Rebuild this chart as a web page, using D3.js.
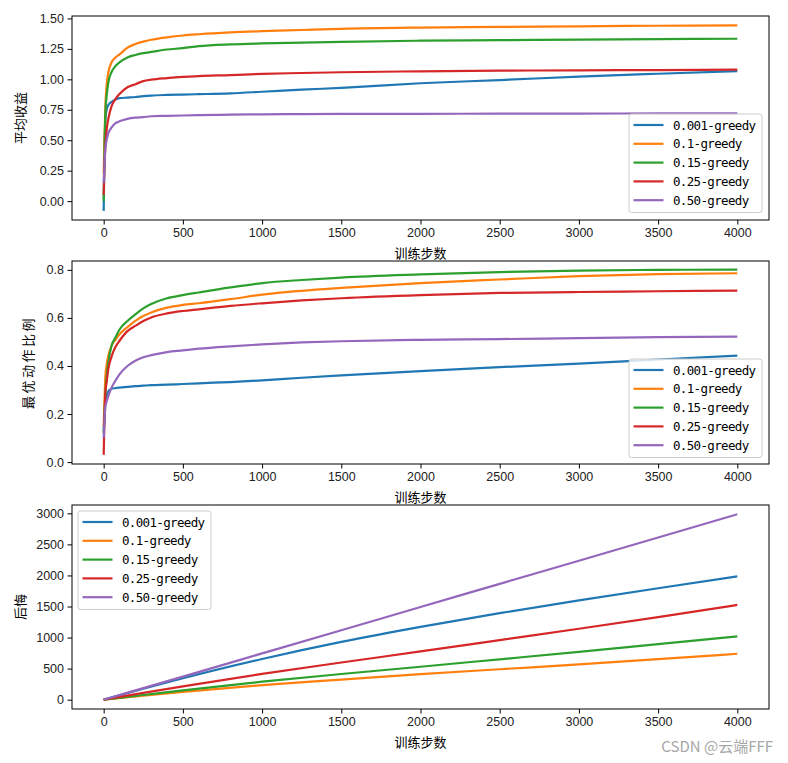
<!DOCTYPE html>
<html>
<head>
<meta charset="utf-8">
<script src="https://cdn.jsdelivr.net/npm/d3@7"></script>
<style>
  html, body { margin: 0; padding: 0; background: #fff; }
  svg { display: block; }
</style>
</head>
<body>
<svg id="chart" width="788" height="763"></svg>
<script>
// ---------------- DATA ----------------
const seriesNames = ["0.001-greedy", "0.1-greedy", "0.15-greedy", "0.25-greedy", "0.50-greedy"];
const colors = ["#1f77b4", "#ff7f0e", "#2ca02c", "#d62728", "#9467bd"];

// training steps at which values were read (panels 1 & 2)
const steps = [0, 5, 10, 20, 30, 50, 75, 100, 150, 200, 250, 300, 400, 500, 600, 800, 1000, 1250, 1500, 2000, 2500, 3000, 3500, 4000];

// Panel 1: 平均收益 (average reward)
const rewardEps001 = [-0.08, 0.40, 0.65, 0.76, 0.79, 0.815, 0.835, 0.845, 0.850, 0.855, 0.862, 0.867, 0.872, 0.875, 0.878, 0.885, 0.898, 0.915, 0.930, 0.968, 0.994, 1.022, 1.046, 1.068];
const rewardEps01  = [0.22, 0.50, 0.75, 0.97, 1.06, 1.14, 1.18, 1.205, 1.26, 1.29, 1.31, 1.325, 1.345, 1.36, 1.37, 1.385, 1.395, 1.405, 1.415, 1.425, 1.43, 1.435, 1.44, 1.443];
const rewardEps015 = [0.00, 0.40, 0.70, 0.88, 0.98, 1.06, 1.11, 1.14, 1.18, 1.20, 1.215, 1.225, 1.245, 1.256, 1.272, 1.287, 1.295, 1.302, 1.308, 1.317, 1.322, 1.326, 1.330, 1.333];
const rewardEps025 = [0.05, 0.30, 0.43, 0.60, 0.68, 0.78, 0.84, 0.88, 0.935, 0.96, 0.985, 0.997, 1.01, 1.02, 1.027, 1.035, 1.045, 1.052, 1.058, 1.066, 1.071, 1.074, 1.076, 1.079];
const rewardEps050 = [0.15, 0.30, 0.42, 0.51, 0.56, 0.605, 0.64, 0.655, 0.675, 0.685, 0.69, 0.697, 0.70, 0.703, 0.706, 0.71, 0.713, 0.715, 0.716, 0.717, 0.718, 0.719, 0.72, 0.721];

// Panel 2: 最优动作比例 (optimal action ratio)
const optEps001 = [0.127, 0.20, 0.25, 0.28, 0.295, 0.305, 0.308, 0.31, 0.313, 0.316, 0.318, 0.32, 0.322, 0.325, 0.328, 0.333, 0.34, 0.351, 0.361, 0.379, 0.395, 0.41, 0.427, 0.443];
const optEps01  = [0.15, 0.25, 0.35, 0.41, 0.445, 0.485, 0.51, 0.532, 0.562, 0.588, 0.608, 0.623, 0.643, 0.654, 0.661, 0.678, 0.697, 0.713, 0.725, 0.745, 0.76, 0.774, 0.782, 0.786];
const optEps015 = [0.12, 0.20, 0.28, 0.36, 0.418, 0.485, 0.52, 0.552, 0.587, 0.615, 0.64, 0.658, 0.682, 0.695, 0.706, 0.727, 0.745, 0.758, 0.768, 0.781, 0.791, 0.797, 0.80, 0.801];
const optEps025 = [0.03, 0.18, 0.28, 0.34, 0.39, 0.44, 0.48, 0.505, 0.545, 0.567, 0.587, 0.602, 0.619, 0.629, 0.636, 0.65, 0.661, 0.673, 0.682, 0.695, 0.704, 0.708, 0.711, 0.714];
const optEps050 = [0.10, 0.17, 0.224, 0.255, 0.275, 0.31, 0.34, 0.365, 0.40, 0.422, 0.436, 0.445, 0.458, 0.465, 0.472, 0.482, 0.49, 0.498, 0.503, 0.509, 0.512, 0.516, 0.52, 0.522];

// Panel 3: 后悔 (regret)
const regretSteps = [0, 250, 500, 1000, 1500, 2000, 2500, 3000, 3500, 4000];
const regretEps001 = [0, 175, 345, 655, 930, 1172, 1393, 1598, 1794, 1985];
const regretEps01  = [0, 65, 125, 235, 322, 410, 490, 568, 652, 739];
const regretEps015 = [0, 75, 150, 290, 413, 530, 650, 770, 895, 1018];
const regretEps025 = [0, 110, 215, 415, 598, 777, 960, 1142, 1330, 1525];
const regretEps050 = [0, 186, 372, 745, 1118, 1492, 1864, 2237, 2610, 2984];

const xTicks = [0, 500, 1000, 1500, 2000, 2500, 3000, 3500, 4000];
const yTicks1 = [0.00, 0.25, 0.50, 0.75, 1.00, 1.25, 1.50];
const yTicks2 = [0.0, 0.2, 0.4, 0.6, 0.8];
const yTicks3 = [0, 500, 1000, 1500, 2000, 2500, 3000];

const xLabel = "训练步数";
const yLabels = ["平均收益", "最优动作比例", "后悔"];
const watermark = "CSDN @云端FFF";

// ---------------- DRAW ----------------
const svg = d3.select("#chart");
const latinFont = "'Liberation Sans', Arial, sans-serif";
const cjkFont = "'Noto Sans CJK SC', 'Noto Sans', sans-serif";
const monoFont = "'DejaVu Sans Mono', 'Liberation Mono', monospace";

const left = 72, right = 769;
const panels = [
  { top: 16, bottom: 220, domain: [-0.155, 1.52], ticks: yTicks1, fmt: d3.format(".2f"),
    xs: steps, ys: [rewardEps001, rewardEps01, rewardEps015, rewardEps025, rewardEps050],
    ylabel: yLabels[0], ylabelX: 20, ls: 0, legend: { x: 629, y: 114 } },
  { top: 261, bottom: 464, domain: [-0.008, 0.837], ticks: yTicks2, fmt: d3.format(".1f"),
    xs: steps, ys: [optEps001, optEps01, optEps015, optEps025, optEps050],
    ylabel: yLabels[1], ylabelX: 28, ls: 2.5, legend: { x: 629, y: 359 } },
  { top: 505, bottom: 709, domain: [-150, 3134], ticks: yTicks3, fmt: d3.format("d"),
    xs: regretSteps, ys: [regretEps001, regretEps01, regretEps015, regretEps025, regretEps050],
    ylabel: yLabels[2], ylabelX: 20, ls: 0, legend: { x: 78, y: 511 } }
];

const x = d3.scaleLinear().domain([-200, 4200]).range([left, right]);

panels.forEach(p => {
  const y = d3.scaleLinear().domain(p.domain).range([p.bottom, p.top]);
  const g = svg.append("g");

  const clipId = "clip" + p.top;
  svg.append("clipPath").attr("id", clipId).append("rect")
    .attr("x", left).attr("y", p.top).attr("width", right - left).attr("height", p.bottom - p.top);

  const line = d3.line().x((d, i) => x(p.xs[i])).y(d => y(d)).curve(d3.curveMonotoneX);
  p.ys.forEach((arr, k) => {
    g.append("path").datum(arr)
      .attr("clip-path", `url(#${clipId})`)
      .attr("d", line)
      .attr("fill", "none")
      .attr("stroke", colors[k])
      .attr("stroke-width", 2.2)
      .attr("stroke-linejoin", "round");
  });

  const xAxis = d3.axisBottom(x).tickValues(xTicks).tickSize(4.5).tickPadding(3).tickFormat(d3.format("d"));
  const gx = g.append("g").attr("transform", `translate(0,${p.bottom})`).call(xAxis);
  const yAxis = d3.axisLeft(y).tickValues(p.ticks).tickSize(4.5).tickPadding(3.5).tickFormat(p.fmt);
  const gy = g.append("g").attr("transform", `translate(${left},0)`).call(yAxis);
  [gx, gy].forEach(a => {
    a.select(".domain").remove();
    a.selectAll(".tick line").attr("stroke", "#000").attr("stroke-width", 1);
    a.selectAll(".tick text").attr("fill", "#222").style("font-family", latinFont).style("font-size", "12.5px");
  });
  gx.selectAll(".tick text").attr("dy", "0.75em");

  g.append("rect").attr("x", left).attr("y", p.top)
    .attr("width", right - left).attr("height", p.bottom - p.top)
    .attr("fill", "none").attr("stroke", "#000").attr("stroke-width", 1);

  g.append("text").attr("x", (left + right) / 2).attr("y", p.bottom + 38)
    .attr("text-anchor", "middle").style("font-family", cjkFont).style("font-size", "13px")
    .attr("fill", "#000").text(xLabel);
  g.append("text")
    .attr("transform", `translate(${p.ylabelX + 5},${(p.top + p.bottom) / 2}) rotate(-90)`)
    .attr("text-anchor", "middle").style("font-family", cjkFont).style("font-size", "13px")
    .style("letter-spacing", p.ls + "px")
    .attr("fill", "#000").text(p.ylabel);

  const lg = g.append("g").attr("transform", `translate(${p.legend.x},${p.legend.y})`);
  const lw = 133, lh = 98.5;
  lg.append("rect").attr("x", 0).attr("y", 0).attr("width", lw).attr("height", lh)
    .attr("rx", 2.5).attr("fill", "#fff").attr("fill-opacity", 0.8)
    .attr("stroke", "#ccc").attr("stroke-width", 1);
  seriesNames.forEach((name, k) => {
    const ry = 11 + k * 18.8;
    lg.append("line").attr("x1", 4.5).attr("x2", 34.5).attr("y1", ry).attr("y2", ry)
      .attr("stroke", colors[k]).attr("stroke-width", 2.2);
    lg.append("text").attr("x", 44).attr("y", ry).attr("dy", "0.36em")
      .style("font-family", monoFont).style("font-size", "12.5px").style("letter-spacing", "-0.66px")
      .attr("fill", "#000").text(name);
  });
});

svg.append("text").attr("x", 773).attr("y", 752).attr("text-anchor", "end")
  .style("font-family", cjkFont).style("font-size", "15px")
  .attr("fill", "#a8a8a8").text(watermark);
</script>
</body>
</html>
